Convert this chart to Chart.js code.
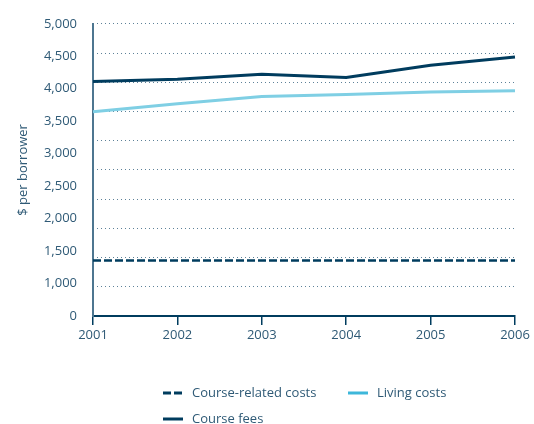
<!DOCTYPE html>
<html>
<head>
<meta charset="utf-8">
<script src="https://cdn.jsdelivr.net/npm/chart.js@4.4.1/dist/chart.umd.min.js"></script>
<style>
  html, body { margin: 0; padding: 0; background: #fff; }
  #wrap { width: 534px; height: 424px; overflow: hidden; }
</style>
</head>
<body>
<div id="wrap"><canvas id="loanChart" width="534" height="424"></canvas></div>
<script>
var years = ['2001', '2002', '2003', '2004', '2005', '2006'];
var courseRelatedCosts = [950, 950, 950, 950, 950, 950];
var livingCosts = [3495, 3630, 3758, 3792, 3831, 3854];
var courseFees = [4011, 4050, 4135, 4080, 4292, 4433];
// labels printed down the value axis (no 500 label)
var axisLabels = ['0', '1,000', '1,500', '2,000', '2,500', '3,000', '3,500', '4,000', '4,500', '5,000'];

var navy = '#003c5e';
var lightBlue = '#7fcfe4';
var textColor = '#2f5a76';
var font = { family: "'Open Sans', 'Noto Sans', sans-serif", size: 13 };

Chart.defaults.font.family = font.family;
Chart.defaults.font.size = font.size;
Chart.defaults.color = textColor;

// legend laid out as two columns under the plot
var columnLegend = {
  id: 'columnLegend',
  afterDraw: function(chart, args, opts) {
    var ctx = chart.ctx;
    ctx.save();
    ctx.font = font.size + 'px ' + font.family;
    ctx.textBaseline = 'middle';
    opts.order.forEach(function(idx, n) {
      var ds = chart.data.datasets[idx];
      var x = opts.x + (n % 2) * opts.colWidth;
      var y = opts.y + Math.floor(n / 2) * opts.rowHeight;
      ctx.strokeStyle = ds.legendColor || ds.borderColor;
      ctx.lineWidth = 3;
      ctx.setLineDash(ds.borderDash || []);
      ctx.beginPath();
      ctx.moveTo(x, y);
      ctx.lineTo(x + 20, y);
      ctx.stroke();
      ctx.setLineDash([]);
      ctx.fillStyle = textColor;
      ctx.fillText(ds.label, x + 29, y);
    });
    ctx.restore();
  }
};

const config = {
  type: 'line',
  data: {
    labels: years,
    datasets: [
      {
        label: 'Course fees',
        data: courseFees,
        borderColor: navy,
        borderWidth: 3,
        pointRadius: 0,
        tension: 0,
        yAxisID: 'y'
      },
      {
        label: 'Living costs',
        data: livingCosts,
        borderColor: lightBlue,
        legendColor: '#3db7da',
        borderWidth: 3,
        pointRadius: 0,
        tension: 0,
        yAxisID: 'y'
      },
      {
        label: 'Course-related costs',
        data: courseRelatedCosts,
        borderColor: navy,
        borderWidth: 2.7,
        borderDash: [8, 3],
        pointRadius: 0,
        tension: 0,
        yAxisID: 'y'
      }
    ]
  },
  options: {
    responsive: false,
    animation: false,
    devicePixelRatio: 1,
    layout: { padding: { top: 23, right: 19, bottom: 78, left: 0 } },
    plugins: {
      legend: { display: false },
      tooltip: { enabled: false },
      columnLegend: { order: [2, 1, 0], x: 163, y: 393, colWidth: 185, rowHeight: 26 }
    },
    scales: {
      x: {
        offset: false,
        grid: {
          drawOnChartArea: false,
          drawTicks: true,
          tickLength: 9,
          color: navy,
          lineWidth: 1.5
        },
        border: { color: navy, width: 2 },
        ticks: { padding: 2, maxRotation: 0, color: textColor },
        afterFit: function(scale) { scale.height = 30; }
      },
      y: {
        position: 'left',
        min: 0,
        max: 5000,
        ticks: { display: false, stepSize: 500 },
        grid: { color: '#5d8198', lineWidth: 1, drawTicks: false },
        border: { display: false, dash: [1, 3] },
        afterFit: function(scale) { scale.width = 0; }
      },
      yLabels: {
        position: 'left',
        min: 0,
        max: axisLabels.length - 1,
        grid: { display: false, drawTicks: false },
        border: { color: '#4d7690', width: 2 },
        ticks: {
          stepSize: 1,
          padding: 16,
          color: textColor,
          callback: function(v) { return axisLabels[v]; }
        },
        title: {
          display: true,
          text: '$ per borrower',
          color: textColor,
          padding: { top: 15, bottom: 0 }
        },
        afterFit: function(scale) { scale.width = 93; }
      }
    }
  },
  plugins: [columnLegend]
};

var myChart = new Chart(document.getElementById('loanChart'), config);
</script>
</body>
</html>
